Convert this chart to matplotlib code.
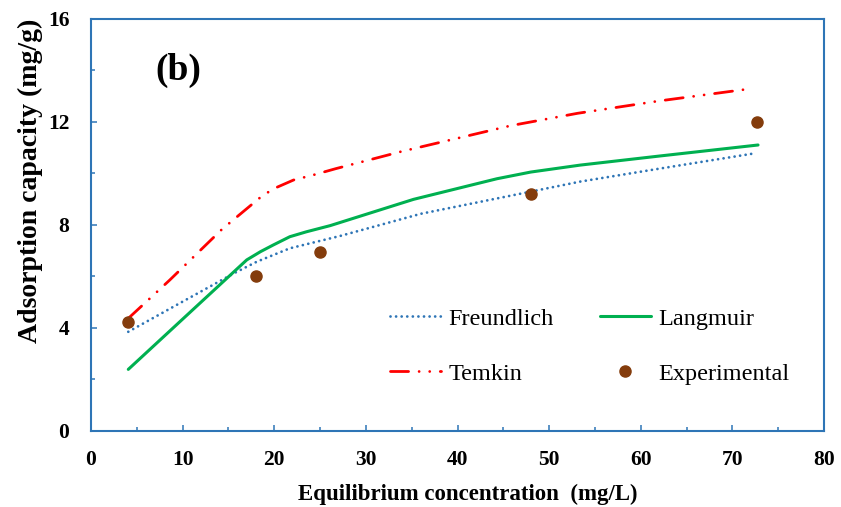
import matplotlib
matplotlib.use("Agg")
import matplotlib.pyplot as plt
from matplotlib.ticker import MultipleLocator

plt.rcParams['font.family'] = ['Liberation Serif', 'DejaVu Serif']

# experimental points
exp_x = [4.0, 18.0, 25.0, 48.0, 72.7]
exp_y = [4.2, 6.0, 6.95, 9.2, 12.0]

# model curves
freund_x = [4.07, 10, 15.6, 18.1, 21.7, 27.2, 36, 48, 53.4, 62, 72.5]
freund_y = [3.84, 5.01, 6.11, 6.56, 7.08, 7.56, 8.42, 9.28, 9.67, 10.17, 10.77]

lang_x = [4.07, 10, 17, 18.5, 19.9, 21.7, 23.5, 26.1, 35.2, 44.3, 48, 53.4, 62, 72.8]
lang_y = [2.38, 4.33, 6.63, 6.95, 7.21, 7.53, 7.72, 7.96, 8.98, 9.78, 10.04, 10.31, 10.66, 11.09]

temkin_x = [4.07, 8.6, 14.3, 18.8, 20.3, 22.1, 24.3, 26.7, 33.8, 45.8, 53.1, 62, 71.9]
temkin_y = [4.36, 5.85, 7.82, 9.15, 9.45, 9.73, 9.93, 10.17, 10.83, 11.84, 12.32, 12.8, 13.27]

axis_blue = '#2E75B6'

fig = plt.figure(figsize=(8.41, 5.07), dpi=100)
ax = fig.add_axes([0.1082, 0.1505, 0.8716, 0.813])

ax.plot(freund_x, freund_y, color='#2E75B6', lw=2.0, dashes=(0.01, 2.0),
        dash_capstyle='round', label='Freundlich')
ax.plot(temkin_x, temkin_y, color='#FF0000', lw=2.0,
        dashes=(6.5, 3.8, 0.01, 3.8, 0.01, 3.8), dash_capstyle='round',
        label='Temkin')
ax.plot(lang_x, lang_y, color='#00B050', lw=2.2, solid_capstyle='round',
        solid_joinstyle='round', label='Langmuir')
ax.plot(exp_x, exp_y, 'o', color='#843C0C', markersize=8, label='Experimental')

ax.set_xlim(0, 80)
ax.set_ylim(0, 16)
ax.xaxis.set_major_locator(MultipleLocator(10))
ax.xaxis.set_minor_locator(MultipleLocator(5))
ax.yaxis.set_major_locator(MultipleLocator(4))
ax.yaxis.set_minor_locator(MultipleLocator(2))

for s in ax.spines.values():
    s.set_color(axis_blue)
    s.set_linewidth(1.5)
ax.tick_params(which='both', direction='in', color=axis_blue, width=1.1)
ax.tick_params(which='major', length=4.5)
ax.tick_params(which='minor', length=3)
ax.tick_params(axis='x', which='major', pad=14)
ax.tick_params(axis='y', which='major', pad=15.5)
for lab in ax.get_xticklabels() + ax.get_yticklabels():
    lab.set_fontsize(15.5)
    lab.set_fontweight('bold')

fig.text(467.5 / 841, 1 - 494 / 507, 'Equilibrium concentration  (mg/L)',
         ha='center', va='center', fontsize=16.5, fontweight='bold')
fig.text(30 / 841, 1 - 181 / 507, 'Adsorption capacity (mg/g)',
         ha='center', va='center', rotation=90, fontsize=20, fontweight='bold')

ax.text(7.0, 14.0, '(b)', ha='left', va='center', fontsize=27, fontweight='bold')

ax.legend(loc='center left', bbox_to_anchor=(0.408, 0.205), ncol=2,
          frameon=False, fontsize=17.5, handlelength=2.1, handletextpad=0.3,
          columnspacing=1.9, labelspacing=1.35, borderpad=0, borderaxespad=0)

fig.savefig('out.png', dpi=100)
